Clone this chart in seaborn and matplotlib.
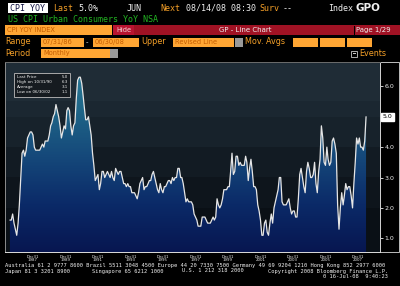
import numpy as np
import pandas as pd
import matplotlib
matplotlib.use("Agg")
import matplotlib.pyplot as plt
import matplotlib.dates as mdates
from matplotlib.patches import Rectangle
from matplotlib.colors import LinearSegmentedColormap, to_rgb
import seaborn as sns

# ---------------- data (US CPI YoY %, monthly, Jul-1986 .. Jun-2008) -------------
cpi_1986 = [1.6, 1.6, 1.8, 1.5, 1.3, 1.1]
cpi_1987 = [1.5, 2.1, 3.0, 3.8, 3.9, 3.7, 3.9, 4.3, 4.4, 4.5, 4.5, 4.4]
cpi_1988 = [4.0, 3.9, 3.9, 3.9, 3.9, 4.0, 4.1, 4.0, 4.2, 4.2, 4.2, 4.4]
cpi_1989 = [4.7, 4.8, 5.0, 5.1, 5.4, 5.2, 5.0, 4.7, 4.3, 4.5, 4.7, 4.6]
cpi_1990 = [5.2, 5.3, 5.2, 4.7, 4.4, 4.7, 4.8, 5.6, 6.2, 6.3, 6.3, 6.1]
cpi_1991 = [5.7, 5.3, 4.9, 4.9, 5.0, 4.7, 4.4, 3.8, 3.4, 2.9, 3.0, 3.1]
cpi_1992 = [2.6, 2.8, 3.2, 3.2, 3.0, 3.1, 3.2, 3.1, 3.0, 3.2, 3.0, 2.9]
cpi_1993 = [3.3, 3.2, 3.1, 3.2, 3.2, 3.0, 2.8, 2.8, 2.7, 2.8, 2.7, 2.7]
cpi_1994 = [2.5, 2.5, 2.5, 2.4, 2.3, 2.5, 2.8, 2.9, 3.0, 2.6, 2.7, 2.7]
cpi_1995 = [2.8, 2.9, 2.9, 3.1, 3.2, 3.0, 2.8, 2.6, 2.5, 2.8, 2.6, 2.5]
cpi_1996 = [2.7, 2.7, 2.8, 2.9, 2.9, 2.8, 3.0, 2.9, 3.0, 3.0, 3.3, 3.3]
cpi_1997 = [3.0, 3.0, 2.8, 2.5, 2.2, 2.3, 2.2, 2.2, 2.2, 2.1, 1.8, 1.7]
cpi_1998 = [1.6, 1.4, 1.4, 1.4, 1.7, 1.7, 1.7, 1.6, 1.5, 1.5, 1.5, 1.6]
cpi_1999 = [1.7, 1.6, 1.7, 2.3, 2.1, 2.0, 2.1, 2.3, 2.6, 2.6, 2.6, 2.7]
cpi_2000 = [2.7, 3.2, 3.8, 3.1, 3.2, 3.7, 3.7, 3.4, 3.5, 3.4, 3.4, 3.4]
cpi_2001 = [3.7, 3.5, 2.9, 3.3, 3.6, 3.2, 2.7, 2.7, 2.6, 2.1, 1.9, 1.6]
cpi_2002 = [1.1, 1.1, 1.5, 1.6, 1.2, 1.1, 1.5, 1.8, 1.5, 2.0, 2.2, 2.4]
cpi_2003 = [2.6, 3.0, 3.0, 2.2, 2.1, 2.1, 2.1, 2.2, 2.3, 2.0, 1.8, 1.9]
cpi_2004 = [1.9, 1.7, 1.7, 2.3, 3.1, 3.3, 3.0, 2.7, 2.5, 3.2, 3.5, 3.3]
cpi_2005 = [3.0, 3.0, 3.1, 3.5, 2.8, 2.5, 3.2, 3.6, 4.7, 4.3, 3.5, 3.4]
cpi_2006 = [4.0, 3.6, 3.4, 3.5, 4.2, 4.3, 4.1, 3.8, 2.1, 1.3, 2.0, 2.5]
cpi_2007 = [2.1, 2.4, 2.8, 2.6, 2.7, 2.7, 2.4, 2.0, 2.8, 3.5, 4.3, 4.1]
cpi_2008 = [4.3, 4.0, 4.0, 3.9, 4.2, 5.0]

start_date = "1986-07-31"
y_ticks = [1.0, 2.0, 3.0, 4.0, 5.0, 6.0]
label_years = [1987, 1989, 1991, 1993, 1995, 1997, 1999, 2001, 2003, 2005, 2007]
stats_labels = ["Last Price", "High on 10/31/90", "Average", "Low on 06/30/02"]
stats_values = ["5.0", "6.3", "3.1", "1.1"]

values = (cpi_1986 + cpi_1987 + cpi_1988 + cpi_1989 + cpi_1990 + cpi_1991 + cpi_1992
          + cpi_1993 + cpi_1994 + cpi_1995 + cpi_1996 + cpi_1997 + cpi_1998 + cpi_1999
          + cpi_2000 + cpi_2001 + cpi_2002 + cpi_2003 + cpi_2004 + cpi_2005 + cpi_2006
          + cpi_2007 + cpi_2008)
dates = pd.date_range(start_date, periods=len(values), freq="ME")
df = pd.DataFrame({"date": dates, "cpi": values})

# ---------------- figure ----------------
sns.set_style("dark")
plt.rcParams["font.family"] = ["DejaVu Sans"]
fig = plt.figure(figsize=(4.0, 2.86), dpi=100, facecolor="black")

# full-figure pixel canvas for the terminal chrome
bg = fig.add_axes([0, 0, 1, 1], zorder=0)
bg.set_xlim(0, 400)
bg.set_ylim(286, 0)
bg.axis("off")
bg.set_facecolor("black")

ORANGE = "#f5a028"
BOXOR = "#ffa634"
BOXTXT = "#c45c00"
WHITE = "#f0f0f0"
mono = "DejaVu Sans Mono"

def box(x0, y0, x1, y1, fc, ec="none", lw=0.0, z=1):
    bg.add_patch(Rectangle((x0, y0), x1 - x0, y1 - y0, fc=fc, ec=ec, lw=lw, zorder=z))

def txt(x, y, s, c=WHITE, fs=6, ha="left", fam=mono, weight="normal"):
    bg.text(x, y, s, color=c, fontsize=fs, ha=ha, va="center", family=fam,
            fontweight=weight, zorder=5)

# row 1
box(8, 3, 48, 13, "white")
txt(10, 8.2, "CPI YOY", c="#101040", fs=6)
txt(53, 8.2, "Last", c=ORANGE, fs=6)
txt(78, 8.2, "5.0%", c=WHITE, fs=6)
txt(127, 8.2, "JUN", c=WHITE, fs=6)
txt(160, 8.2, "Next", c=ORANGE, fs=6)
txt(186, 8.2, "08/14/08 08:30", c=WHITE, fs=6)
txt(259, 8.2, "Surv", c=ORANGE, fs=6)
txt(283, 8.2, "--", c=WHITE, fs=6)
txt(328, 8.2, "Index", c=WHITE, fs=6)
txt(356, 8.2, "GPO", c=WHITE, fs=7.5, fam="DejaVu Sans", weight="bold")
# row 2
txt(8, 19, "US CPI Urban Consumers YoY NSA", c="#22b422", fs=6)
# row 3
box(5, 25, 112, 35, BOXOR)
txt(7, 30, "CPI YOY INDEX", c=BOXTXT, fs=4.8, fam="DejaVu Sans")
box(113, 25, 134, 35, "#b81430")
txt(116, 30, "Hide", c="#f4d8d8", fs=4.8, fam="DejaVu Sans")
box(134, 25, 400, 35, "#a01224")
txt(245, 30, "GP - Line Chart", c=WHITE, fs=5, ha="center", fam="DejaVu Sans")
box(354, 25.5, 354.7, 35, "black")
txt(356, 30, "Page 1/29", c=WHITE, fs=5, fam="DejaVu Sans")
# row 4
txt(5, 42, "Range", c=ORANGE, fs=5.8, fam="DejaVu Sans")
box(41, 37.5, 84, 46.5, BOXOR)
txt(43, 42, "07/31/86", c=BOXTXT, fs=4.8, fam="DejaVu Sans")
txt(86, 42, "-", c=WHITE, fs=5, fam="DejaVu Sans")
box(93, 37.5, 139, 46.5, BOXOR)
txt(95, 42, "06/30/08", c=BOXTXT, fs=4.8, fam="DejaVu Sans")
txt(141, 42, "Upper", c=ORANGE, fs=5.8, fam="DejaVu Sans")
box(173, 37.5, 234, 46.5, BOXOR)
txt(175, 42, "Revised Line", c=BOXTXT, fs=4.8, fam="DejaVu Sans")
box(235, 37.5, 243, 46.5, "#9a9a9a")
txt(245, 42, "Mov. Avgs", c=ORANGE, fs=5.8, fam="DejaVu Sans")
for x0 in (293, 320, 347):
    box(x0, 37.5, x0 + 25, 46.5, BOXOR)
# row 5
txt(5, 53.5, "Period", c=ORANGE, fs=5.8, fam="DejaVu Sans")
box(41, 49, 110, 58, BOXOR)
txt(43, 53.5, "Monthly", c=BOXTXT, fs=4.8, fam="DejaVu Sans")
box(110, 49, 118, 58, "#9a9a9a")
box(351, 50.5, 357, 56.5, "black", ec="#c8c8c8", lw=0.6)
box(352.5, 53.2, 355.5, 53.8, "#c8c8c8")
txt(359, 53.5, "Events", c=ORANGE, fs=5.8, fam="DejaVu Sans")

# right value-axis panel frame
box(380, 62, 399, 252, "none", ec="#bdbdbd", lw=0.7, z=2)

# footer
txt(5, 265, "Australia 61 2 9777 8600 Brazil 5511 3048 4500 Europe 44 20 7330 7500 "
            "Germany 49 69 9204 1210 Hong Kong 852 2977 6000", fs=3.9)
txt(5, 271, "Japan 81 3 3201 8900", fs=3.9)
txt(92, 271, "Singapore 65 6212 1000", fs=3.9)
txt(182, 271, "U.S. 1 212 318 2000", fs=3.9)
txt(268, 271, "Copyright 2008 Bloomberg Finance L.P.", fs=3.9)
txt(388, 277, "0 16-Jul-08  9:40:23", fs=3.9, ha="right")

# ---------------- main chart ----------------
ax = fig.add_axes([5 / 400, 1 - 252 / 286, 375 / 400, 190 / 286], zorder=2)
ax.set_facecolor("none")

ref = mdates.date2num(pd.Timestamp("1988-01-01"))
days_per_px = 365.25 / 16.25
xmin = ref - 28 * days_per_px
xmax = ref + 347 * days_per_px
ymin, ymax = 0.55, 6.8
ax.set_xlim(xmin, xmax)
ax.set_ylim(ymin, ymax)

# banded background
ys = np.linspace(ymin, ymax, 400)
band_cols = np.zeros((len(ys), 1, 3))
for i, v in enumerate(ys):
    if v >= 5.5:
        c = "#1f2c36"
    elif v >= 5.0:
        c = "#1b2731"
    elif v >= 4.0:
        c = "#17222b"
    elif v >= 3.0:
        c = "#121b23"
    elif v >= 2.0:
        c = "#0e151c"
    else:
        c = "#0a1016"
    band_cols[i, 0, :] = to_rgb(c)
ax.imshow(band_cols, extent=[xmin, xmax, ymin, ymax], origin="lower",
          aspect="auto", zorder=0, interpolation="nearest")

# gradient area under curve
poly = ax.fill_between(mdates.date2num(df["date"]), df["cpi"], ymin,
                       facecolor="none", edgecolor="none", zorder=1)
cmap = LinearSegmentedColormap.from_list(
    "bb", ["#071650", "#0b2a68", "#15487a", "#1f6688", "#2a7f9c"])
grad = np.linspace(0, 1, 256).reshape(-1, 1)
im = ax.imshow(grad, extent=[xmin, xmax, ymin, ymax], origin="lower",
               aspect="auto", cmap=cmap, zorder=1)
im.set_clip_path(poly.get_paths()[0], ax.transData)

sns.lineplot(data=df, x="date", y="cpi", ax=ax, color="#e6e6e6",
             linewidth=0.9, zorder=3)
ax.set_xlabel("")
ax.set_ylabel("")
ax.grid(False)

# x ticks: Dec 31 each year, labels on odd years
tick_dates = [pd.Timestamp(f"{y}-12-31") for y in range(1986, 2008)]
ax.set_xticks(mdates.date2num(tick_dates))
ax.set_xticklabels([f"Dec31\n{d.year}" if d.year in label_years else "" for d in tick_dates],
                   fontsize=2.8, color=WHITE, linespacing=0.95)
ax.tick_params(axis="x", direction="out", length=1.5, width=0.6, color=WHITE, pad=0.3)

# y ticks on right
ax.yaxis.tick_right()
ax.set_yticks(y_ticks)
ax.set_yticklabels(["" if t == 5.0 else f"{t:.1f}" for t in y_ticks],
                   fontsize=4.5, color=WHITE)
ax.tick_params(axis="y", direction="out", length=2, width=0.6, color=WHITE, pad=1.2)

ax.annotate(f"{values[-1]:.1f}", xy=(1.0, values[-1]),
            xycoords=("axes fraction", "data"), xytext=(2.0, 0),
            textcoords="offset points", ha="left", va="center", fontsize=4.5,
            color="black", bbox=dict(boxstyle="square,pad=0.25", fc="white", ec="white"),
            zorder=6, annotation_clip=False)

for side, col in (("left", "#8c8c8c"), ("top", "#6c6c6c"),
                  ("right", "#cfcfcf"), ("bottom", "#dcdcdc")):
    ax.spines[side].set_visible(True)
    ax.spines[side].set_color(col)
    ax.spines[side].set_linewidth(0.7)

# stats box
ax.add_patch(Rectangle((0.024, 0.816), 0.15, 0.126, transform=ax.transAxes,
                       fc="#161b20", ec="#a8a8a8", lw=0.7, zorder=5))
for i, (lab, val) in enumerate(zip(stats_labels, stats_values)):
    yy = 0.923 - i * 0.027
    ax.text(0.031, yy, lab, transform=ax.transAxes, fontsize=2.9, color=WHITE,
            va="center", ha="left", zorder=6)
    ax.text(0.167, yy, val, transform=ax.transAxes, fontsize=2.9, color=WHITE,
            va="center", ha="right", zorder=6)

fig.savefig("out.png", dpi=100, facecolor="black")
